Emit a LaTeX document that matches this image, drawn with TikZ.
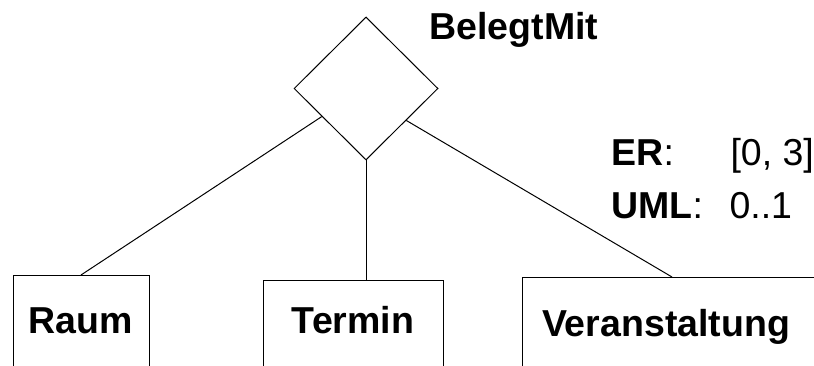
\documentclass[tikz,border=0pt]{standalone}
\usepackage{fontspec}
\setmainfont{Liberation Sans}
\usetikzlibrary{shapes.geometric,calc}
\begin{document}
\begin{tikzpicture}[x=1pt,y=-1pt, line width=1pt,
  lbl/.style={font=\fontsize{37.5pt}{45pt}\selectfont, inner sep=0pt},
  ent/.style={draw, rectangle, anchor=north, inner xsep=0pt, inner ysep=0pt, text depth=45pt, font=\fontsize{37.5pt}{45pt}\selectfont\bfseries},
  rel/.style={draw, diamond, inner sep=0pt, minimum width=144pt, minimum height=143pt}]
\clip (0,0) rectangle (814,366);
\node[rel] (d) at (366,88.5) {};
\node[ent, minimum width=136pt, text height=58pt] (raum) at (81,275) {Raum};
\node[ent, minimum width=180pt, text height=53pt] (termin) at (353,280) {Termin};
\node[ent, text width=260pt, align=left, inner xsep=20pt, text height=59pt] (veran) at (672,277) {Veranstaltung};
\node[lbl, anchor=base, font=\fontsize{37.5pt}{45pt}\selectfont\bfseries] (rn) at (514,40) {BelegtMit};
\node[lbl, anchor=base west] (er) at (611,166) {\textbf{ER}:};
\node[lbl, anchor=base west] (erv) at (730,166) {[0, 3]};
\node[lbl, anchor=base west] (uml) at (611,219) {\textbf{UML}:};
\node[lbl, anchor=base west] (umlv) at (729,219) {0..1};
\draw ($(d.south)!0.61!(d.west)$) -- (raum.north);
\draw (d.south) -- (termin.north -| d.south);
\draw ($(d.south)!0.556!(d.east)$) -- (veran.north);
\end{tikzpicture}
\end{document}
